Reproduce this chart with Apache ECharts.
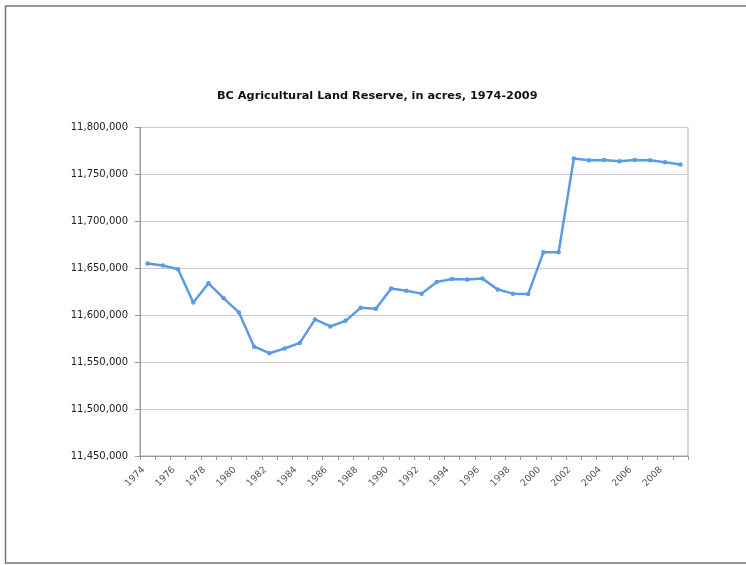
<!DOCTYPE html>
<html>
<head>
<meta charset="utf-8">
<script src="https://cdn.jsdelivr.net/npm/echarts@6/dist/echarts.min.js"></script>
<style>
html,body{margin:0;padding:0;background:#fff;}
#c{width:746px;height:565px;}
</style>
</head>
<body>
<div id="c"></div>
<script>
const years = ['1974','1975','1976','1977','1978','1979','1980','1981','1982','1983','1984','1985','1986','1987','1988','1989','1990','1991','1992','1993','1994','1995','1996','1997','1998','1999','2000','2001','2002','2003','2004','2005','2006','2007','2008','2009'];
const acres = [11655000,11653000,11649000,11613500,11634000,11618000,11603000,11566500,11559500,11564500,11570500,11595500,11588000,11594000,11608000,11607000,11628500,11626000,11623000,11635500,11638500,11638000,11639000,11627500,11623000,11622500,11667000,11667000,11767000,11765000,11765500,11764000,11765500,11765000,11763000,11760500];
const yMin = 11450000, yMax = 11800000, yStep = 50000;
const titleText = 'BC Agricultural Land Reserve, in acres, 1974-2009';

const chart = echarts.init(document.getElementById('c'), null, {renderer:'canvas'});
chart.setOption({
  animation: false,
  backgroundColor: '#ffffff',
  title: {
    text: titleText,
    left: 212,
    top: 86,
    textStyle: {fontFamily: 'DejaVu Sans', fontWeight: 'bold', fontSize: 11.3, color: '#111'}
  },
  graphic: [{
    type: 'rect',
    shape: {x: 5.5, y: 6, width: 800, height: 557},
    style: {fill: 'none', stroke: '#777', lineWidth: 1.5},
    silent: true
  }],
  grid: {left: 140, right: 58, top: 127.5, bottom: 109, show: true, borderColor: '#aaa', borderWidth: 1},
  xAxis: {
    type: 'category',
    data: years,
    boundaryGap: true,
    axisLine: {lineStyle: {color: '#999', width: 1}},
    axisTick: {show: true, interval: 0, length: 4, lineStyle: {color: '#999'}},
    axisLabel: {interval: 1, rotate: 45, fontFamily: 'DejaVu Sans', fontSize: 9.3, color: '#555', margin: 8, padding: [0, 6, 0, 0]}
  },
  yAxis: {
    type: 'value',
    min: yMin, max: yMax, interval: yStep,
    axisLine: {show: true, lineStyle: {color: '#999'}},
    axisTick: {show: true, inside: false, length: 5, lineStyle: {color: '#999'}},
    splitLine: {lineStyle: {color: '#ccc'}},
    axisLabel: {
      fontFamily: 'DejaVu Sans', fontSize: 10, color: '#222', margin: 12,
      formatter: v => v.toLocaleString('en-US')
    }
  },
  series: [{
    type: 'line',
    data: acres,
    symbol: 'circle',
    symbolSize: 4.5,
    lineStyle: {color: '#5a9be6', width: 2.5},
    itemStyle: {color: '#5a9be6'}
  }]
});
</script>
</body>
</html>
